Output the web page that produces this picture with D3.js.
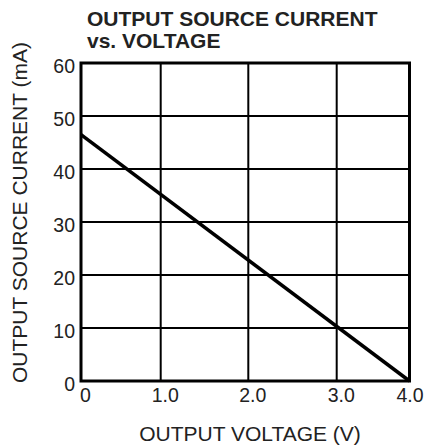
<!DOCTYPE html>
<html>
<head>
<meta charset="utf-8">
<script src="https://cdn.jsdelivr.net/npm/d3@7"></script>
<style>
  body { margin: 0; background: #fff; }
  text { font-family: "Liberation Sans", Arial, sans-serif; fill: #222; }
</style>
</head>
<body>
<div id="chart"></div>
<script>
// data
const voltageTicks = [0, 1, 2, 3, 4];
const voltageTickLabels = ["0", "1.0", "2.0", "3.0", "4.0"];
const currentTicks = [0, 10, 20, 30, 40, 50, 60];
const voltage = [0, 4.0];
const current = [46.5, 0];

const W = 426, H = 446;
const FONT = "'Liberation Sans', Arial, sans-serif";

const svg = d3.select("#chart")
  .append("svg")
  .attr("width", W)
  .attr("height", H);

// grid in the original is not evenly spaced along x
const x = d3.scaleLinear()
  .domain(voltageTicks)
  .range([81, 160.7, 248.3, 336.7, 409.5]);
const y = d3.scaleLinear().domain([0, 60]).range([381, 63]);

// title
const title = svg.append("text")
  .style("font-weight", "bold")
  .style("font-size", "21px");
title.append("tspan").attr("x", 87).attr("y", 26).text("OUTPUT SOURCE CURRENT");
title.append("tspan").attr("x", 87).attr("y", 48).text("vs. VOLTAGE");

// grid
const grid = svg.append("g").attr("class", "grid");
grid.selectAll(".vline")
  .data(voltageTicks)
  .enter()
  .append("line")
  .attr("x1", (d) => x(d))
  .attr("x2", (d) => x(d))
  .attr("y1", y(0))
  .attr("y2", y(60))
  .style("stroke", "#000")
  .style("stroke-width", 2);

grid.selectAll(".hline")
  .data(currentTicks)
  .enter()
  .append("line")
  .attr("x1", x(0))
  .attr("x2", x(4))
  .attr("y1", (d) => y(d))
  .attr("y2", (d) => y(d))
  .style("stroke", "#000")
  .style("stroke-width", 2);

// frame
svg.append("rect")
  .attr("x", x(0))
  .attr("y", y(60))
  .attr("width", x(4) - x(0))
  .attr("height", y(0) - y(60))
  .style("fill", "none")
  .style("stroke", "#000")
  .style("stroke-width", 3);

// axes (labels only)
const xAxisCall = d3.axisBottom(x)
  .tickValues(voltageTicks)
  .tickFormat((d, i) => voltageTickLabels[i])
  .tickSize(0)
  .tickPadding(7);
const xAxis = svg.append("g")
  .attr("transform", `translate(4, ${y(0)})`)
  .call(xAxisCall);
xAxis.select(".domain").remove();
xAxis.selectAll("text")
  .style("font-size", "19.5px")
  .style("font-family", FONT)
  .attr("fill", "#222")
  .attr("dx", (d, i) => (i === voltageTicks.length - 1 ? -4 : 0)); // last label sits on the edge

const yAxisCall = d3.axisLeft(y)
  .tickValues(currentTicks)
  .tickFormat(d3.format("d"))
  .tickSize(0)
  .tickPadding(6);
const yAxis = svg.append("g")
  .attr("transform", `translate(${x(0)}, 0)`)
  .call(yAxisCall);
yAxis.select(".domain").remove();
yAxis.selectAll("text")
  .style("font-size", "19.5px")
  .style("font-family", FONT)
  .attr("fill", "#222")
  .attr("dy", "0.5em");

// axis titles
svg.append("text")
  .attr("x", 250)
  .attr("y", 441)
  .attr("text-anchor", "middle")
  .style("font-size", "21px")
  .text("OUTPUT VOLTAGE (V)");

svg.append("text")
  .attr("transform", "rotate(-90)")
  .attr("x", -212.5)
  .attr("y", 27)
  .attr("text-anchor", "middle")
  .style("font-size", "21px")
  .text("OUTPUT SOURCE CURRENT (mA)");

// curve
const line = d3.line()
  .x((d) => x(d[0]))
  .y((d) => y(d[1]));

svg.append("path")
  .datum(d3.zip(voltage, current))
  .attr("d", line)
  .style("fill", "none")
  .style("stroke", "#000")
  .style("stroke-width", 3.5);
</script>
</body>
</html>
